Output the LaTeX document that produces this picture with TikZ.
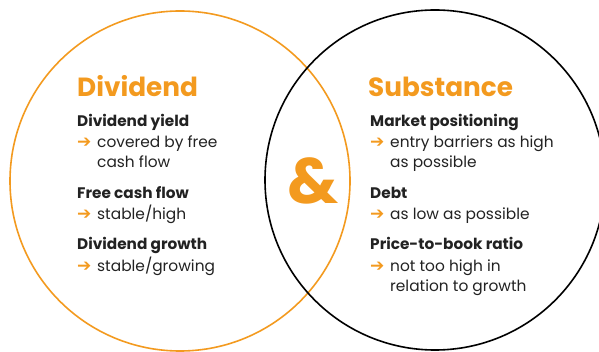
\documentclass[tikz,border=0pt]{standalone}
\usepackage{fontspec}
\setmainfont{Poppins}
\newfontfamily\arrowfont{DejaVu Sans}
\definecolor{brandorange}{HTML}{F39A1F}
\definecolor{textdark}{HTML}{222222}
\newcommand{\orarrow}{{\color{brandorange}\arrowfont\bfseries ➔}}
\tikzset{
  titletext/.style={anchor=base west, inner sep=0pt, text=brandorange, font=\fontsize{26.3}{30}\selectfont\bfseries},
  headtext/.style={anchor=base west, inner sep=0pt, text=textdark, font=\fontsize{15.3}{18}\selectfont\bfseries},
  bodytext/.style={anchor=base west, inner sep=0pt, text=textdark, font=\fontsize{15.4}{18}\selectfont},
  arrowmark/.style={anchor=base west, inner sep=0pt, font=\fontsize{17}{17}\selectfont},
}
\begin{document}
\begin{tikzpicture}[x=1pt,y=-1pt]
\useasboundingbox (0,0) rectangle (599,352);
\begin{scope}
\clip (0,0) rectangle (599,352);
\draw[brandorange, line width=1.6pt] (180,181) circle[radius=170pt];
\draw[black, line width=1.6pt] (435,180) circle[radius=170pt];
\end{scope}
\node[anchor=center, inner sep=0pt, text=brandorange, font=\fontsize{64}{64}\selectfont\bfseries] (amp) at (313,181) {\&};
% left column
\node[titletext] (t1) at (77,97) {Dividend};
\node[headtext] (h1) at (77,127) {Dividend yield};
\node[arrowmark] (a1) at (77,148) {\orarrow};
\node[bodytext] (b1) at (97,148) {covered by free};
\node[bodytext] (b1b) at (97,168) {cash flow};
\node[headtext] (h2) at (77,199) {Free cash flow};
\node[arrowmark] (a2) at (77,220) {\orarrow};
\node[bodytext] (b2) at (97,220) {stable/high};
\node[headtext] (h3) at (77,250) {Dividend growth};
\node[arrowmark] (a3) at (77,272) {\orarrow};
\node[bodytext] (b3) at (97,272) {stable/growing};
% right column
\node[titletext] (t2) at (368,97) {Substance};
\node[headtext] (h4) at (370,127) {Market positioning};
\node[arrowmark] (a4) at (370,148) {\orarrow};
\node[bodytext] (b4) at (390,148) {entry barriers as high};
\node[bodytext] (b4b) at (390,168) {as possible};
\node[headtext] (h5) at (370,199) {Debt};
\node[arrowmark] (a5) at (370,220) {\orarrow};
\node[bodytext] (b5) at (390,220) {as low as possible};
\node[headtext] (h6) at (370,250) {Price-to-book ratio};
\node[arrowmark] (a6) at (370,272) {\orarrow};
\node[bodytext] (b6) at (390,272) {not too high in};
\node[bodytext] (b6b) at (390,292) {relation to growth};
\end{tikzpicture}
\end{document}
